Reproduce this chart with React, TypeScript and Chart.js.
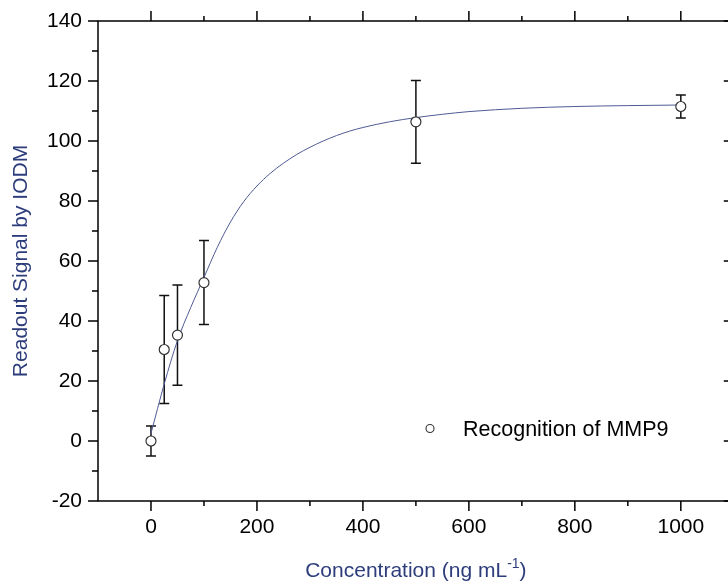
import React, { useEffect, useRef } from 'react';
import { Chart, registerables } from 'chart.js';

Chart.register(...registerables);

// ---- data ----
const concentrations = [0, 25, 50, 100, 500, 1000];
const signals = [0, 30.5, 35.3, 52.8, 106.4, 111.5];
const errors = [5, 18, 16.7, 14, 13.8, 3.8];

const fitX = [0, 25, 50, 75, 100, 125, 150, 175, 200, 225, 250, 275, 300, 325, 350, 375, 400, 450, 500, 550, 600, 700, 800, 900, 1000];
const fitY = [2.5, 19, 33.5, 44.5, 54.5, 64.5, 73, 79.8, 85, 89.2, 92.6, 95.5, 97.9, 100, 101.8, 103.3, 104.5, 106.4, 107.8, 108.9, 109.8, 110.9, 111.5, 111.8, 112];

const xMajorTicks = [0, 200, 400, 600, 800, 1000];
const xMinorTicks = [100, 300, 500, 700, 900];
const yMajorTicks = [-20, 0, 20, 40, 60, 80, 100, 120, 140];
const yMinorTicks = [-10, 10, 30, 50, 70, 90, 110, 130];

const legendLabel = 'Recognition of MMP9';
const yTitle = 'Readout Signal by IODM';
const xTitleMain = 'Concentration (ng mL';
const xTitleSup = '-1';
const xTitleEnd = ')';

const FONT = "'Liberation Sans', Arial, sans-serif";
const TITLE_COLOR = '#2d3d7b';

const decorPlugin = {
  id: 'decor',
  beforeDatasetsDraw(chart: any) {
    const ctx = chart.ctx;
    const xs = chart.scales.x;
    const ys = chart.scales.y;
    ctx.save();
    ctx.strokeStyle = '#111';
    ctx.lineWidth = 1.5;
    concentrations.forEach((c, i) => {
      const px = xs.getPixelForValue(c);
      const top = ys.getPixelForValue(signals[i] + errors[i]);
      const bot = ys.getPixelForValue(signals[i] - errors[i]);
      ctx.beginPath();
      ctx.moveTo(px, top);
      ctx.lineTo(px, bot);
      ctx.moveTo(px - 5, top);
      ctx.lineTo(px + 5, top);
      ctx.moveTo(px - 5, bot);
      ctx.lineTo(px + 5, bot);
      ctx.stroke();
    });
    ctx.restore();
  },
  afterDraw(chart: any) {
    const ctx = chart.ctx;
    const xs = chart.scales.x;
    const ys = chart.scales.y;
    const { left, right, top, bottom } = chart.chartArea;
    ctx.save();
    ctx.strokeStyle = '#000';
    ctx.lineWidth = 1.5;
    ctx.beginPath();
    ctx.rect(left, top, right - left, bottom - top);
    ctx.stroke();
    ctx.beginPath();
    xMajorTicks.forEach((v) => {
      const px = xs.getPixelForValue(v);
      ctx.moveTo(px, bottom);
      ctx.lineTo(px, bottom + 10);
      ctx.moveTo(px, top);
      ctx.lineTo(px, top - 10);
    });
    xMinorTicks.forEach((v) => {
      const px = xs.getPixelForValue(v);
      ctx.moveTo(px, bottom);
      ctx.lineTo(px, bottom + 5);
      ctx.moveTo(px, top);
      ctx.lineTo(px, top - 5);
    });
    yMajorTicks.forEach((v) => {
      const py = ys.getPixelForValue(v);
      ctx.moveTo(left, py);
      ctx.lineTo(left - 10, py);
      ctx.moveTo(right, py);
      ctx.lineTo(right - 10, py);
    });
    yMinorTicks.forEach((v) => {
      const py = ys.getPixelForValue(v);
      ctx.moveTo(left, py);
      ctx.lineTo(left - 6, py);
      ctx.moveTo(right, py);
      ctx.lineTo(right - 5, py);
    });
    ctx.stroke();

    // legend
    ctx.beginPath();
    ctx.arc(430, 428.5, 4, 0, Math.PI * 2);
    ctx.fillStyle = '#fff';
    ctx.fill();
    ctx.lineWidth = 1.1;
    ctx.strokeStyle = '#333';
    ctx.stroke();
    ctx.fillStyle = '#000';
    ctx.font = `21.5px ${FONT}`;
    ctx.textAlign = 'left';
    ctx.textBaseline = 'alphabetic';
    ctx.fillText(legendLabel, 463, 435.5);

    // x title with superscript
    ctx.fillStyle = TITLE_COLOR;
    const mainFont = `21px ${FONT}`;
    const supFont = `14px ${FONT}`;
    ctx.font = mainFont;
    const w1 = ctx.measureText(xTitleMain).width;
    const w3 = ctx.measureText(xTitleEnd).width;
    ctx.font = supFont;
    const w2 = ctx.measureText(xTitleSup).width;
    const total = w1 + w2 + w3;
    const cx = (left + right) / 2;
    let x0 = cx - total / 2;
    const base = 577;
    ctx.font = mainFont;
    ctx.fillText(xTitleMain, x0, base);
    x0 += w1;
    ctx.font = supFont;
    ctx.fillText(xTitleSup, x0, base - 9);
    x0 += w2;
    ctx.font = mainFont;
    ctx.fillText(xTitleEnd, x0, base);
    ctx.restore();
  },
};

export default function App() {
  const canvasRef = useRef<HTMLCanvasElement | null>(null);

  useEffect(() => {
    const canvas = canvasRef.current;
    if (!canvas) return;
    Chart.defaults.font.family = FONT;
    const chart = new Chart(canvas, {
      type: 'scatter',
      data: {
        datasets: [
          {
            label: legendLabel,
            data: concentrations.map((c, i) => ({ x: c, y: signals[i] })),
            pointRadius: 5,
            pointBorderWidth: 1.2,
            pointBorderColor: '#333',
            pointBackgroundColor: '#fff',
            showLine: false,
          },
          {
            label: 'fit',
            data: fitX.map((x, i) => ({ x, y: fitY[i] })),
            showLine: true,
            pointRadius: 0,
            borderColor: '#4f5a95',
            borderWidth: 1,
            cubicInterpolationMode: 'monotone',
            fill: false,
          },
        ],
      },
      options: {
        responsive: false,
        animation: false,
        layout: { padding: { top: 21, right: 5, left: 0, bottom: 0 } },
        plugins: {
          legend: { display: false },
          tooltip: { enabled: false },
        },
        scales: {
          x: {
            type: 'linear',
            min: -100,
            max: 1100,
            grid: { display: false, drawTicks: false },
            border: { display: false },
            ticks: {
              color: '#000',
              font: { size: 21 },
              padding: 14,
              maxRotation: 0,
              callback: (v: any) => String(v),
            },
            afterBuildTicks: (scale: any) => {
              scale.ticks = xMajorTicks.map((v) => ({ value: v }));
            },
            afterFit: (scale: any) => {
              scale.height = 83;
              scale.paddingLeft = 0;
              scale.paddingRight = 0;
            },
          },
          y: {
            type: 'linear',
            min: -20,
            max: 140,
            grid: { display: false, drawTicks: false },
            border: { display: false },
            ticks: {
              color: '#000',
              font: { size: 21 },
              padding: 16,
              callback: (v: any) => String(v),
            },
            afterBuildTicks: (scale: any) => {
              scale.ticks = yMajorTicks.map((v) => ({ value: v }));
            },
            title: {
              display: true,
              text: yTitle,
              color: TITLE_COLOR,
              font: { size: 21 },
              padding: { top: 9, bottom: 0 },
            },
            afterFit: (scale: any) => {
              scale.width = 98;
              scale.paddingTop = 0;
              scale.paddingBottom = 0;
            },
          },
        },
      },
      plugins: [decorPlugin],
    } as any);
    return () => chart.destroy();
  }, []);

  return (
    <div
      style={{
        position: 'fixed',
        left: 0,
        top: 0,
        width: 728,
        height: 584,
        overflow: 'hidden',
        background: '#fff',
      }}
    >
      <canvas ref={canvasRef} width={740} height={584} style={{ width: 740, height: 584, display: 'block' }} />
    </div>
  );
}
